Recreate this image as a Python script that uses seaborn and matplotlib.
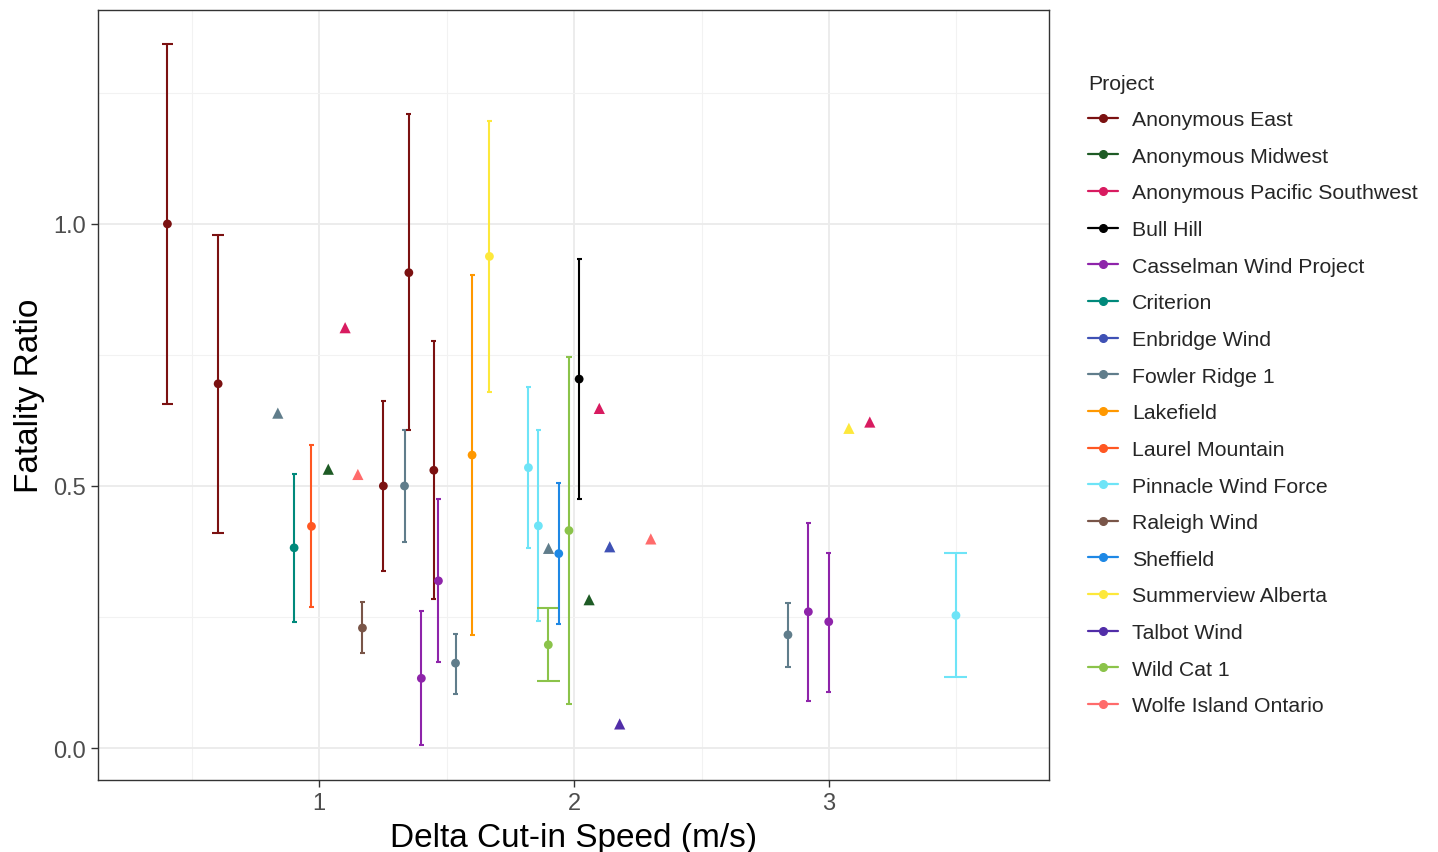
import matplotlib
matplotlib.use("Agg")
import matplotlib.pyplot as plt
from matplotlib.lines import Line2D
import seaborn as sns
import pandas as pd
import numpy as np

# ---------------- data ----------------
projects = ["Anonymous East", "Anonymous Midwest", "Anonymous Pacific Southwest",
            "Bull Hill", "Casselman Wind Project", "Criterion", "Enbridge Wind",
            "Fowler Ridge 1", "Lakefield", "Laurel Mountain", "Pinnacle Wind Force",
            "Raleigh Wind", "Sheffield", "Summerview Alberta", "Talbot Wind",
            "Wild Cat 1", "Wolfe Island Ontario"]

colors = ["#7B1111", "#1E5B25", "#D81B60", "#000000", "#8E24AA", "#00897B",
          "#3F51B5", "#607D8B", "#FF9800", "#FF5722", "#6EE4F7", "#795548",
          "#1E88E5", "#FDE83B", "#512DA8", "#8BC34A", "#FF6B6B"]

# points with confidence intervals (circles)
ci_project = ["Anonymous East", "Anonymous East", "Criterion", "Laurel Mountain",
              "Raleigh Wind", "Anonymous East", "Fowler Ridge 1", "Anonymous East",
              "Casselman Wind Project", "Anonymous East", "Casselman Wind Project",
              "Fowler Ridge 1", "Lakefield", "Summerview Alberta", "Pinnacle Wind Force",
              "Pinnacle Wind Force", "Wild Cat 1", "Sheffield", "Wild Cat 1", "Bull Hill",
              "Fowler Ridge 1", "Casselman Wind Project", "Casselman Wind Project",
              "Pinnacle Wind Force"]
ci_x = [0.405, 0.604, 0.902, 0.970, 1.170, 1.252, 1.335, 1.352, 1.401, 1.450, 1.468,
        1.535, 1.600, 1.668, 1.821, 1.860, 1.899, 1.940, 1.980, 2.020, 2.839, 2.919,
        2.999, 3.498]
ci_y = [1.000, 0.695, 0.382, 0.423, 0.229, 0.500, 0.500, 0.907, 0.133, 0.530, 0.319,
        0.162, 0.559, 0.938, 0.535, 0.424, 0.197, 0.371, 0.415, 0.704, 0.216, 0.260,
        0.241, 0.253]
ci_lo = [0.656, 0.410, 0.241, 0.270, 0.181, 0.337, 0.394, 0.607, 0.005, 0.284, 0.164,
         0.104, 0.215, 0.680, 0.382, 0.242, 0.127, 0.237, 0.084, 0.475, 0.155, 0.090,
         0.107, 0.135]
ci_hi = [1.343, 0.978, 0.523, 0.578, 0.278, 0.662, 0.606, 1.209, 0.261, 0.777, 0.475,
         0.218, 0.903, 1.197, 0.689, 0.606, 0.267, 0.505, 0.747, 0.933, 0.276, 0.430,
         0.373, 0.372]

# single estimates (triangles)
tri_project = ["Fowler Ridge 1", "Anonymous Midwest", "Anonymous Pacific Southwest",
               "Wolfe Island Ontario", "Fowler Ridge 1", "Anonymous Midwest",
               "Anonymous Pacific Southwest", "Enbridge Wind", "Talbot Wind",
               "Wolfe Island Ontario", "Summerview Alberta", "Anonymous Pacific Southwest"]
tri_x = [0.838, 1.036, 1.102, 1.152, 1.900, 2.059, 2.099, 2.140, 2.179, 2.301, 3.078, 3.160]
tri_y = [0.639, 0.532, 0.802, 0.522, 0.381, 0.283, 0.648, 0.384, 0.046, 0.399, 0.610, 0.622]

# cap half-widths (styling) per CI point, in data units
cap_half = [0.023, 0.023, 0.01, 0.01, 0.01, 0.01, 0.01, 0.01, 0.01, 0.01, 0.01,
            0.01, 0.01, 0.01, 0.01, 0.01, 0.045, 0.01, 0.01, 0.01, 0.01, 0.01,
            0.01, 0.045]

palette = dict(zip(projects, colors))

ci_df = pd.DataFrame({"Project": ci_project, "x": ci_x, "y": ci_y,
                      "lo": ci_lo, "hi": ci_hi, "cap": cap_half})
tri_df = pd.DataFrame({"Project": tri_project, "x": tri_x, "y": tri_y})

# ---------------- style ----------------
sns.set_theme(style="whitegrid")
plt.rcParams["font.family"] = ["Liberation Sans", "DejaVu Sans"]

fig = plt.figure(figsize=(14.38, 8.53), dpi=100)
ax = fig.add_axes([0.0682, 0.0844, 0.6613, 0.9026])

# error bars
for _, r in ci_df.iterrows():
    c = palette[r["Project"]]
    ax.vlines(r["x"], r["lo"], r["hi"], color=c, lw=1.5, zorder=3)
    ax.hlines([r["lo"], r["hi"]], r["x"] - r["cap"], r["x"] + r["cap"],
              color=c, lw=1.5, zorder=3)

sns.scatterplot(data=ci_df, x="x", y="y", hue="Project", palette=palette,
                marker="o", s=40, linewidth=0, legend=False, ax=ax, zorder=4)
sns.scatterplot(data=tri_df, x="x", y="y", hue="Project", palette=palette,
                marker="^", s=65, linewidth=0, legend=False, ax=ax, zorder=4)

ax.set_xlim(0.133, 3.863)
ax.set_ylim(-0.061, 1.408)
ax.set_xticks([1, 2, 3])
ax.set_xticks([0.5, 1.5, 2.5, 3.5], minor=True)
ax.set_yticks([0.0, 0.5, 1.0])
ax.set_yticks([0.25, 0.75, 1.25], minor=True)
ax.set_yticklabels(["0.0", "0.5", "1.0"])
ax.grid(which="major", color="#EBEBEB", lw=1.3)
ax.grid(which="minor", color="#F2F2F2", lw=0.8)
ax.set_facecolor("white")
for s in ax.spines.values():
    s.set_color("#333333")
    s.set_linewidth(1.0)
ax.tick_params(axis="both", which="major", labelsize=17, labelcolor="#4D4D4D",
               color="#333333", length=5, width=1, direction="out", bottom=True, left=True)
ax.tick_params(axis="both", which="minor", length=0)
ax.set_xlabel("Delta Cut-in Speed (m/s)", fontsize=24, labelpad=6, color="black")
ax.set_ylabel("Fatality Ratio", fontsize=24, labelpad=6, color="black")

handles = [Line2D([0], [0], color=palette[p], marker="o", markersize=5.5, lw=1.6)
           for p in projects]
leg = fig.legend(handles, projects, title="Project", loc="upper left",
                 bbox_to_anchor=(0.7433, 0.935), frameon=False, fontsize=15.3,
                 title_fontsize=15.3, handlelength=1.42, handletextpad=0.66,
                 labelspacing=0.83, alignment="left")

fig.savefig("out.png", dpi=100)
